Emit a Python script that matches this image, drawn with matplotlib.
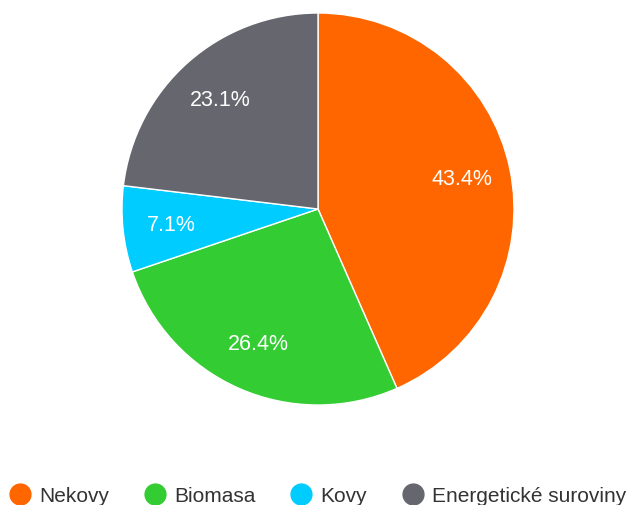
import matplotlib.pyplot as plt
from matplotlib.lines import Line2D

plt.rcParams['font.family'] = ['Liberation Sans', 'DejaVu Sans']

labels = ["Nekovy", "Biomasa", "Kovy", "Energetické suroviny"]
values = [43.4, 26.4, 7.1, 23.1]
colors = ["#FF6600", "#33CC33", "#00CCFF", "#66666E"]

W, H = 627, 506
fig = plt.figure(figsize=(W / 100, H / 100), dpi=100)
r = 196
cx, cy = 318, 210
ax = fig.add_axes([(cx - r) / W, (H - cy - r) / H, 2 * r / W, 2 * r / H])

wedges, texts, autotexts = ax.pie(
    values, colors=colors, startangle=90, counterclock=False,
    autopct="%.1f%%", pctdistance=0.75, radius=1,
    wedgeprops=dict(edgecolor="white", linewidth=1),
    textprops=dict(color="white", fontsize=15.5))
ax.set_xlim(-1, 1)
ax.set_ylim(-1, 1)
ax.set_aspect("equal")
ax.axis("off")

handles = [Line2D([], [], marker="o", linestyle="none", markersize=15,
                  markerfacecolor=c, markeredgecolor=c) for c in colors]
fig.legend(handles, labels, loc="center", bbox_to_anchor=(0.507, 9 / H),
           ncol=4, frameon=False, fontsize=15, handletextpad=0.42,
           columnspacing=1.7, handlelength=1.0, labelcolor="#333333")

fig.savefig("out.png", dpi=100)
